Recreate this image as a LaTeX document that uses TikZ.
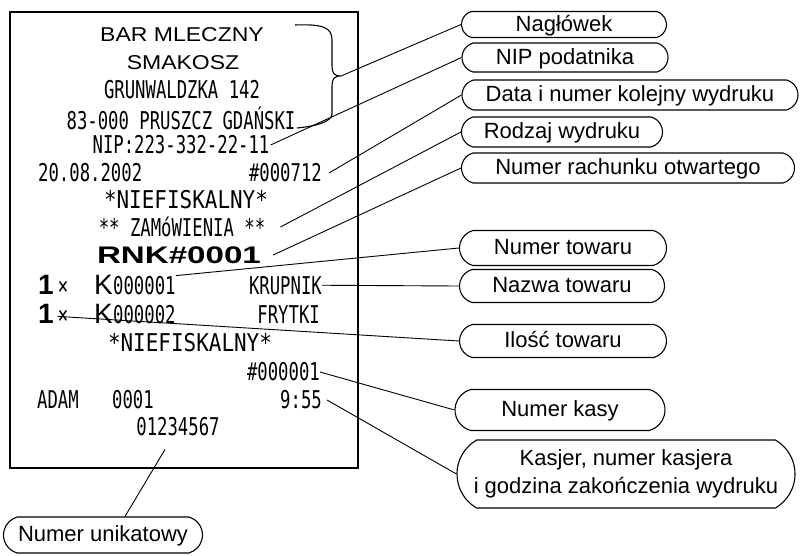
\documentclass[tikz,border=0pt]{standalone}
\usepackage{fontspec}
\setmainfont{Liberation Sans}
\newfontfamily\rcfont[FakeStretch=0.705]{DejaVu Sans Mono}
\newfontfamily\rcwide[FakeStretch=0.855]{DejaVu Sans Mono}
\newfontfamily\hdfont[FakeStretch=1.15]{Liberation Sans}
\newfontfamily\rnkfont[FakeStretch=1.38]{Liberation Sans}
\usetikzlibrary{shapes.misc}
\begin{document}
\begin{tikzpicture}[x=1pt,y=-1pt,
  lbl/.style={draw, rounded rectangle, rounded rectangle arc length=150, line width=1.1pt,
    inner sep=0pt, font=\fontsize{22}{28}\selectfont, text height=17pt, text depth=4pt},
  lbltwo/.style={draw, rounded rectangle, rounded rectangle arc length=120, line width=1.1pt,
    inner sep=0pt, font=\fontsize{22}{28}\selectfont, align=center},
  rc/.style={inner sep=0pt, font=\rcfont\fontsize{24.5}{27}\selectfont},
  rcw/.style={inner sep=0pt, font=\rcwide\fontsize{24.5}{27}\selectfont},
  hd/.style={inner sep=0pt, font=\hdfont\fontsize{20}{22}\selectfont},
  big/.style={inner sep=0pt, font=\fontsize{28}{30}\selectfont},
  bigb/.style={inner sep=0pt, font=\bfseries\fontsize{28}{30}\selectfont},
  conn/.style={line width=0.9pt}]
\useasboundingbox (0,0) rectangle (800,555);

% receipt frame
\draw[line width=1.3pt] (10,12) rectangle (358,468);

% receipt text
\node[hd] (hd1) at (182,35) {BAR MLECZNY};
\node[hd] (hd2) at (183,63) {SMAKOSZ};
\node[rc] (addr1) at (182,90) {GRUNWALDZKA 142};
\node[rc] (addr2) at (181,118) {83-000 PRUSZCZ GDAŃSKI};
\node[rc] (nip) at (181,145) {NIP:223-332-22-11};
\node[rc, anchor=west] (date) at (38,173) {20.08.2002};
\node[rc, anchor=east] (rcpno) at (322,173) {\#000712};
\node[rcw] (nf1) at (186,200) {*NIEFISKALNY*};
\node[rc] (zam) at (182,227) {** ZAMóWIENIA **};
\node[inner sep=0pt, font=\rnkfont\bfseries\fontsize{24}{26}\selectfont] (rnk) at (179,255) {RNK\#0001};

\node[bigb, anchor=base west] (q1) at (38,294) {1};
\node[rc, anchor=base] (x1) at (63,294) {×};
\node[big, anchor=base west] (k1) at (94,294) {K};
\node[rc, anchor=base west] (n1) at (113,294) {000001};
\node[rc, anchor=base east] (krup) at (322,294) {KRUPNIK};

\node[bigb, anchor=base west] (q2) at (38,323) {1};
\node[rc, anchor=base] (x2) at (63,323) {×};
\node[big, anchor=base west] (k2) at (94,323) {K};
\node[rc, anchor=base west] (n2) at (113,323) {000002};
\node[rc, anchor=base east] (fry) at (320,323) {FRYTKI};

\node[rcw] (nf2) at (190,343) {*NIEFISKALNY*};
\node[rc, anchor=east] (kasa) at (320,372) {\#000001};
\node[rc, anchor=west] (adam) at (37,400) {ADAM};
\node[rc, anchor=west] (kid) at (112,400) {0001};
\node[rc, anchor=east] (time) at (322,400) {9:55};
\node[rc] (uniq) at (178,427) {01234567};

% brace
\coordinate (btip) at (341,76);
\draw[line width=1.1pt] (295,25) .. controls (322,24) and (332,27) .. (332,40) -- (332,66)
  .. controls (332,73) and (334,76) .. (btip)
  .. controls (334,76) and (332,79) .. (332,86) -- (332,114)
  .. controls (332,121) and (318,126) .. (297,128);

% labels
\node[lbl, minimum width=205pt, minimum height=26pt] (lnag) at (564,24.5) {Nagłówek};
\node[lbl, minimum width=206pt, minimum height=29pt] (lnip) at (565,57.5) {NIP podatnika};
\node[lbl, minimum width=336pt, minimum height=30pt] (ldata) at (630,95) {Data i numer kolejny wydruku};
\node[lbl, minimum width=201pt, minimum height=30pt] (lrodz) at (562,132) {Rodzaj wydruku};
\node[lbl, minimum width=333pt, minimum height=30pt] (lrach) at (628,168) {Numer rachunku otwartego};
\node[lbl, minimum width=207pt, minimum height=35pt] (ltow) at (563,248) {Numer towaru};
\node[lbl, minimum width=205pt, minimum height=33pt] (lnaz) at (562,286) {Nazwa towaru};
\node[lbl, minimum width=207pt, minimum height=33pt] (lil) at (563,341) {Ilość towaru};
\node[lbl, minimum width=210pt, minimum height=41pt] (lkasy) at (560,410) {Numer kasy};
\node[lbltwo, minimum width=338pt, minimum height=68pt] (lkasjer) at (626,474) {Kasjer, numer kasjera\\i godzina zakończenia wydruku};
\node[lbl, minimum width=199pt, minimum height=36pt] (luni) at (103,535) {Numer unikatowy};

% connectors
\draw[conn] (btip) -- (lnag.west);
\draw[conn] ([xshift=1pt]nip.east) -- (lnip.west);
\draw[conn] ([xshift=7pt]rcpno.east) -- (ldata.west);
\draw[conn] ([xshift=15pt]zam.east) -- (lrodz.west);
\draw[conn] ([xshift=12pt]rnk.east) -- (lrach.west);
\draw[conn] (n1.north east) -- (ltow.west);
\draw[conn] (krup.east) -- (lnaz.west);
\draw[conn] (x2.west) -- (lil.west);
\draw[conn] (kasa.east) -- (lkasy.west);
\draw[conn] ([xshift=5pt]time.east) -- (lkasjer.west);
\draw[conn] ([xshift=-13pt,yshift=-13pt]uniq.south) -- ([xshift=22pt]luni.north);
\end{tikzpicture}
\end{document}
